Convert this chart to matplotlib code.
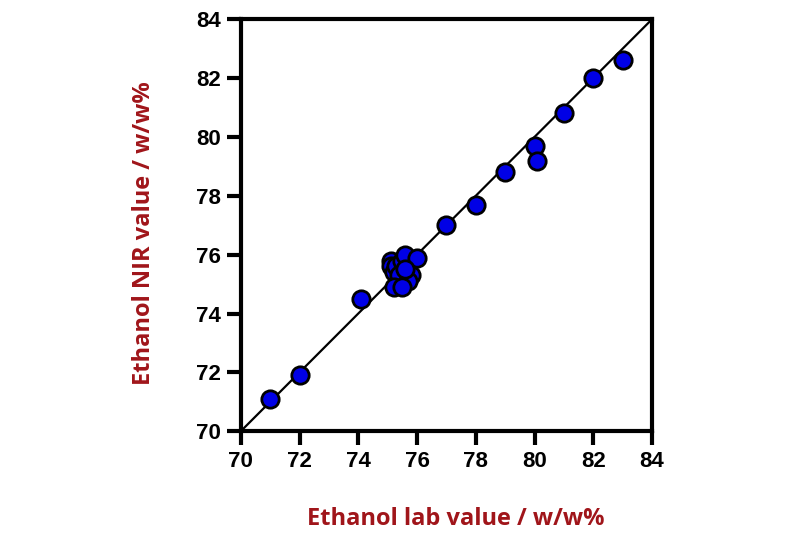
import matplotlib
matplotlib.use("Agg")
import matplotlib.pyplot as plt

# lab reference values vs NIR predicted values (w/w%)
lab_value = [71.0, 72.0, 74.1,
             75.1, 75.1, 75.2, 75.3, 75.5, 75.6, 76.0, 75.4, 75.8, 75.7, 75.2, 75.5, 75.6,
             77.0, 78.0, 79.0, 80.0, 80.1, 81.0, 82.0, 83.0]
nir_value = [71.1, 71.9, 74.5,
             75.8, 75.6, 75.4, 75.6, 75.8, 76.0, 75.9, 75.3, 75.3, 75.1, 74.9, 74.9, 75.5,
             77.0, 77.7, 78.8, 79.7, 79.2, 80.8, 82.0, 82.6]

ticks = [70, 72, 74, 76, 78, 80, 82, 84]
label_color = "#a0151a"

fig = plt.figure(figsize=(8, 5.35), dpi=100)
ax = fig.add_axes([0.301, 0.194, 0.514, 0.770])

#identity line
ax.plot([70, 84], [70, 84], color="black", linewidth=1.6, zorder=2)

#data points
ax.plot(lab_value, nir_value, linestyle="none", marker="o", markersize=12.5,
        markerfacecolor="#0000e6", markeredgecolor="black", markeredgewidth=2.0, zorder=3)

ax.set_xlim(70, 84)
ax.set_ylim(70, 84)
ax.set_xticks(ticks)
ax.set_yticks(ticks)
ax.set_xticklabels([str(t) for t in ticks])
ax.set_yticklabels([str(t) for t in ticks])

for spine in ax.spines.values():
    spine.set_linewidth(3)

ax.tick_params(direction="out", length=10, width=3, pad=4)
for lbl in ax.get_xticklabels() + ax.get_yticklabels():
    lbl.set_fontfamily("Liberation Sans")
    lbl.set_fontstretch("normal")
    lbl.set_fontweight("bold")
    lbl.set_fontsize(16)

ax.set_xlabel("Ethanol lab value / w/w%", fontfamily="Open Sans", fontweight="bold",
              fontsize=17, color=label_color)
ax.set_ylabel("Ethanol NIR value / w/w%", fontfamily="Open Sans", fontweight="bold",
              fontsize=17, color=label_color)
ax.xaxis.set_label_coords(0.523, -0.185)
ax.yaxis.set_label_coords(-0.207, 0.48)

fig.savefig("out.png", dpi=100)
